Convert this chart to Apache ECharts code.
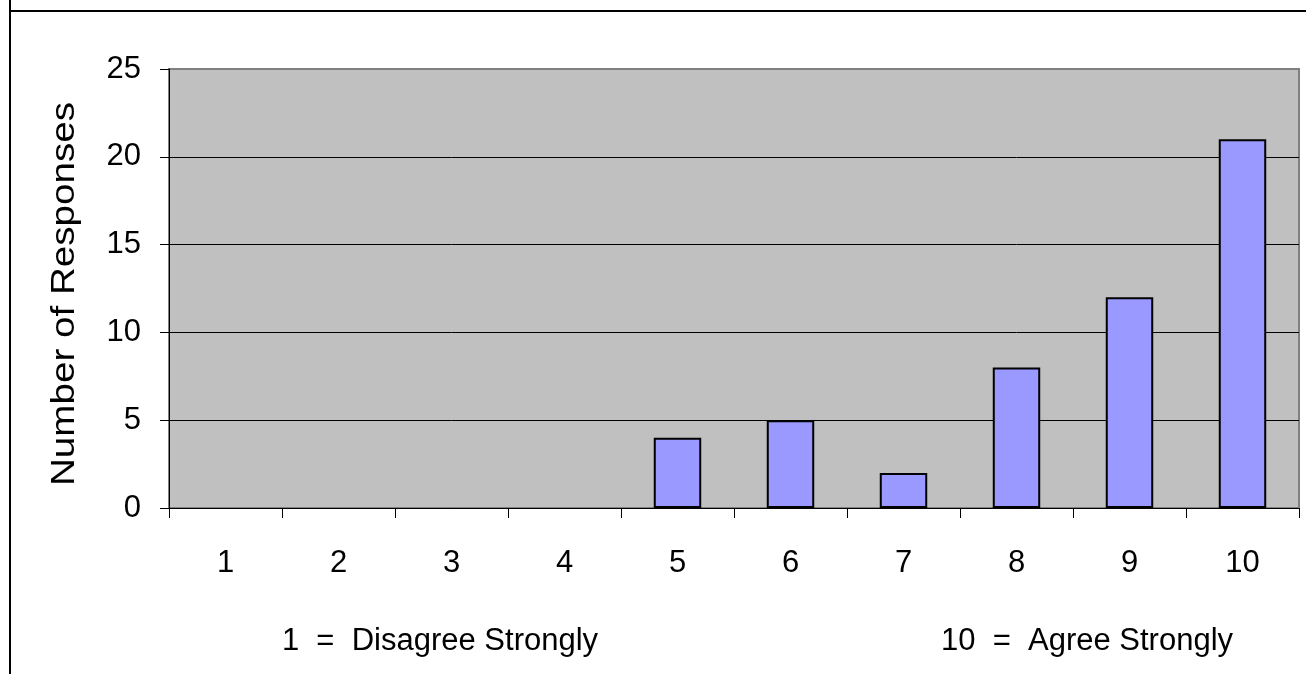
<!DOCTYPE html>
<html><head><meta charset="utf-8">
<script src="https://cdn.jsdelivr.net/npm/echarts@6/dist/echarts.min.js"></script>
<style>html,body{margin:0;padding:0;background:#fff}#c{width:1306px;height:674px}</style>
</head><body><div id="c"></div>
<script>
const categories = ['1','2','3','4','5','6','7','8','9','10'];
const responses = [0,0,0,0,4,5,2,8,12,21];
const yTicks = [0,5,10,15,20,25];
const yAxisTitle = 'Number of Responses';
const leftNote = '1  =  Disagree Strongly';
const rightNote = '10  =  Agree Strongly';

const chart = echarts.init(document.getElementById('c'));
const F = 'Liberation Sans, Arial, sans-serif';
const FS = 31;
chart.setOption({
  animation: false,
  backgroundColor: '#fff',
  grid: {left: 169, right: 7, top: 69, bottom: 166, show: true, backgroundColor: '#C0C0C0', borderColor: '#808080', borderWidth: 2},
  xAxis: {
    type: 'category', data: categories,
    axisLine: {lineStyle: {color: '#000', width: 1}},
    axisTick: {show: true, length: 10, alignWithLabel: false, lineStyle: {color: '#000'}},
    axisLabel: {color: '#000', fontFamily: F, fontSize: FS, margin: 40}
  },
  yAxis: {
    type: 'value', min: yTicks[0], max: yTicks[yTicks.length-1], interval: 5,
    axisLine: {show: true, lineStyle: {color: '#000', width: 1}},
    axisTick: {show: true, length: 9, lineStyle: {color: '#000'}},
    axisLabel: {color: '#000', fontFamily: F, fontSize: FS, margin: 28},
    splitLine: {show: true, lineStyle: {color: ['#000','#000','#000','#000','#000','#808080'], width: 1}}
  },
  series: [{
    type: 'bar', barCategoryGap: '58%',
    data: responses.map(v => v === 0 ? {value: v, itemStyle: {borderWidth: 0, opacity: 0}} : v),
    itemStyle: {color: '#9999FF', borderColor: '#000', borderWidth: 2}
  }],
  graphic: [
    {type: 'line', shape: {x1: 10, y1: 0, x2: 10, y2: 674}, style: {stroke: '#000', lineWidth: 2}, z: 100},
    {type: 'line', shape: {x1: 10, y1: 11, x2: 1306, y2: 11}, style: {stroke: '#000', lineWidth: 2}, z: 100},
    {type: 'text', x: 65, y: 294, rotation: Math.PI / 2, scaleX: 1.17, scaleY: 1,
     style: {text: yAxisTitle, fill: '#000', font: '33px ' + F, textAlign: 'center', textVerticalAlign: 'middle'}},
    {type: 'text', x: 440, y: 641, style: {text: leftNote, fill: '#000', font: FS + 'px ' + F, textAlign: 'center', textVerticalAlign: 'middle'}},
    {type: 'text', x: 1087, y: 641, style: {text: rightNote, fill: '#000', font: FS + 'px ' + F, textAlign: 'center', textVerticalAlign: 'middle'}}
  ]
});
</script></body></html>
